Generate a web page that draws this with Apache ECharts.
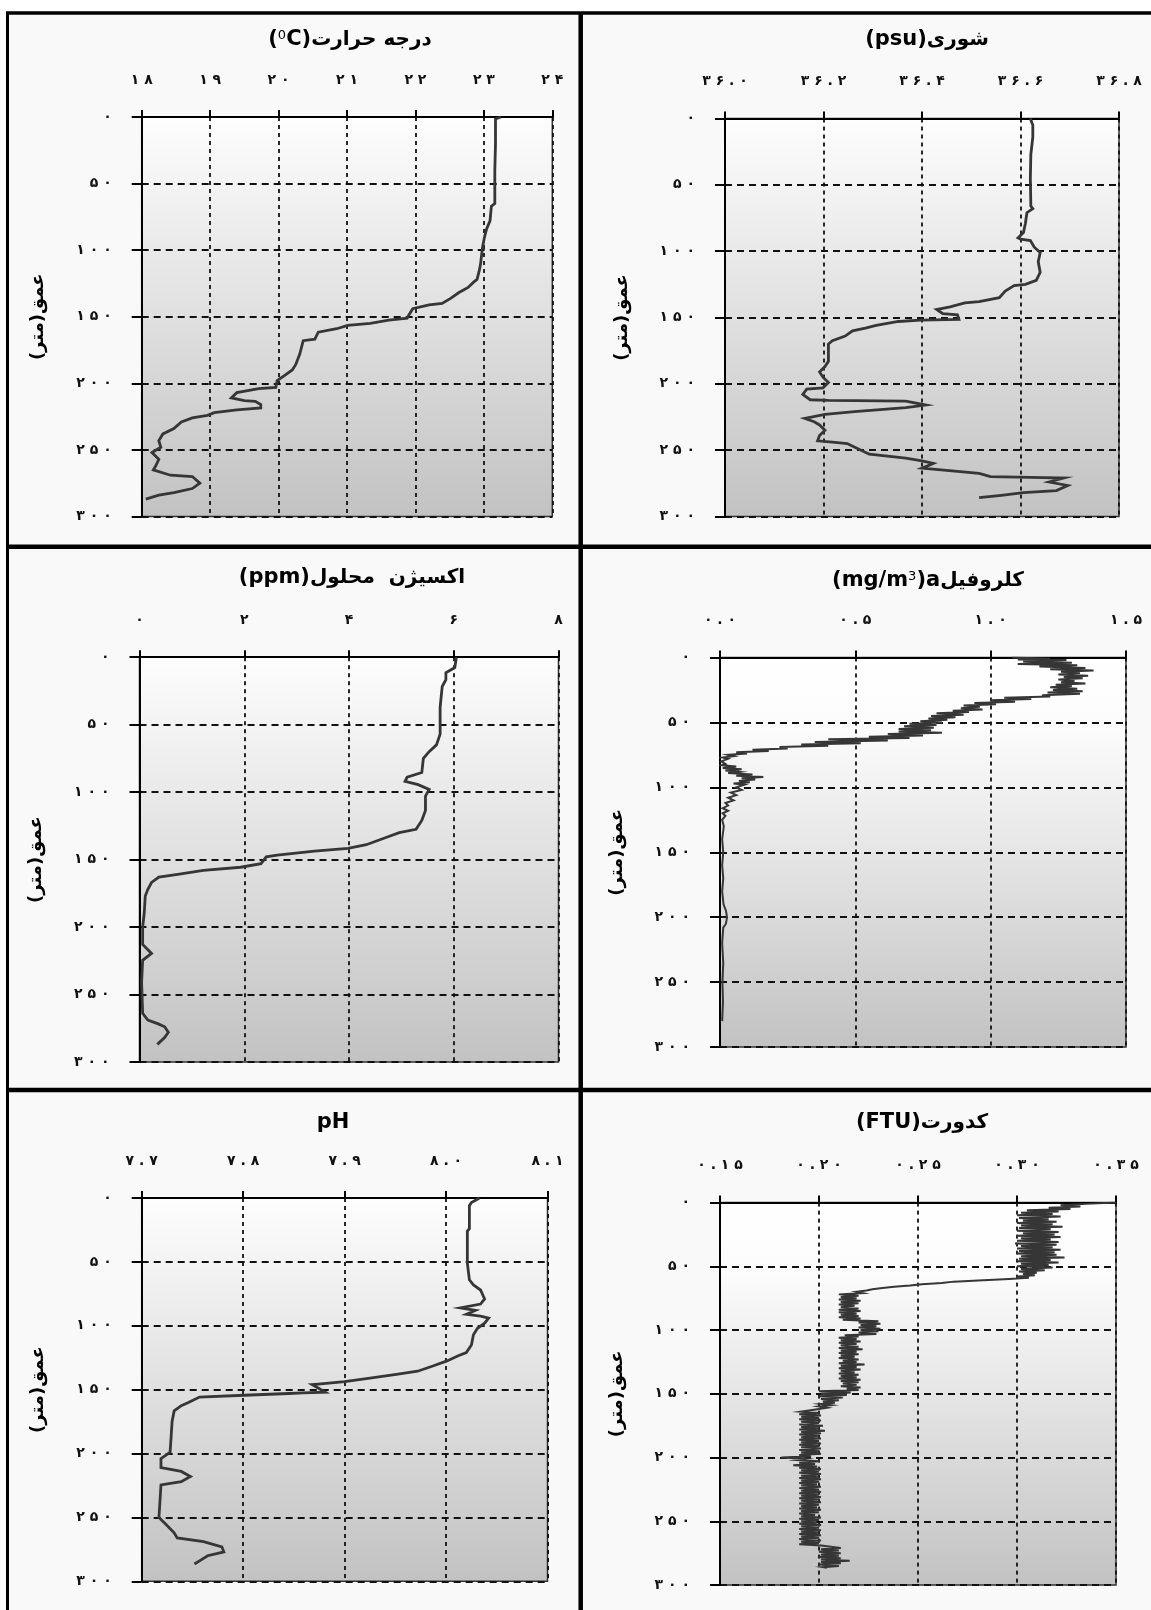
<!DOCTYPE html>
<html>
<head>
<meta charset="utf-8">
<script src="https://cdn.jsdelivr.net/npm/echarts@6/dist/echarts.min.js"></script>
<style>
  html, body { margin: 0; padding: 0; background: #ffffff; }
  #chart { width: 1151px; height: 1610px; }
</style>
</head>
<body>
<div id="chart"></div>
<script>
// ---- Depth axis (metres), shared by all six profiles ----
const depthTicks = [0, 50, 100, 150, 200, 250, 300];

// ---- Top-axis tick values for each profile ----
const tempTicks = [18, 19, 20, 21, 22, 23, 24];
const salinityTicks = [36.0, 36.2, 36.4, 36.6, 36.8];
const oxygenTicks = [0, 2, 4, 6, 8];
const chlTicks = [0.0, 0.5, 1.0, 1.5];
const phTicks = [7.7, 7.8, 7.9, 8.0, 8.1];
const turbTicks = [0.15, 0.20, 0.25, 0.30, 0.35];

// ---- Profiles: [depth (m), value] ----
const temperature = [
  [0, 23.25], [1.5, 23.17], [3, 23.16], [20, 23.17], [40, 23.16], [65, 23.16], [67, 23.11], [78, 23.09],
  [84, 23.04], [90, 23.01], [98, 22.98], [111, 22.95], [116, 22.93], [122, 22.90], [124, 22.85], [128, 22.77],
  [132, 22.63], [136, 22.52], [140, 22.39], [141, 22.20], [144, 21.96], [149, 21.90], [151, 21.88], [152.6, 21.61],
  [155, 21.34], [156.5, 21.01], [159, 20.85], [161.6, 20.58], [166.8, 20.53], [168, 20.36], [178, 20.31], [186, 20.25],
  [190, 20.20], [194, 20.09], [198, 19.98], [203, 19.96], [204, 19.71], [207, 19.39], [211, 19.31], [213, 19.50],
  [213.5, 19.66], [216, 19.74], [218.5, 19.74], [220, 19.39], [222, 19.06], [224, 18.96], [226, 18.74], [229, 18.58],
  [234, 18.47], [238, 18.31], [243, 18.25], [248, 18.28], [252, 18.15], [257, 18.25], [262.5, 18.20], [265, 18.17],
  [269, 18.42], [270, 18.74], [275, 18.85], [279, 18.74], [282, 18.47], [284, 18.25], [287, 18.06]
];

const salinity = [
  [0, 36.620], [1, 36.621], [5, 36.625], [14, 36.625], [27, 36.621], [45, 36.620], [66, 36.621], [68, 36.625],
  [71, 36.613], [79, 36.610], [86, 36.606], [90, 36.595], [91, 36.600], [92, 36.620], [97, 36.628], [101, 36.640],
  [108, 36.636], [116, 36.640], [122, 36.632], [125, 36.610], [126, 36.587], [130, 36.569], [135, 36.557], [138, 36.516],
  [139, 36.487], [142, 36.457], [144, 36.430], [147, 36.442], [148, 36.472], [151.5, 36.475], [152, 36.397], [153, 36.352],
  [156, 36.307], [158, 36.285], [160, 36.259], [164, 36.244], [167.5, 36.218], [170, 36.210], [183, 36.210], [187, 36.203],
  [191, 36.192], [195, 36.199], [199, 36.210], [203, 36.199], [204, 36.166], [208, 36.158], [212, 36.173], [212.5, 36.210],
  [213, 36.367], [216, 36.408], [218, 36.367], [221, 36.263], [223, 36.203], [226, 36.162], [228.6, 36.181], [231, 36.192],
  [235, 36.203], [239, 36.192], [243, 36.188], [244, 36.218], [245, 36.248], [249, 36.270], [253, 36.293], [256, 36.367],
  [258, 36.400], [260, 36.423], [263.6, 36.400], [266, 36.472], [267.5, 36.516], [270, 36.539], [270.5, 36.621], [271, 36.688],
  [274, 36.658], [276.6, 36.696], [280.5, 36.673], [282, 36.606], [284, 36.561], [285.7, 36.516]
];

const oxygen = [
  [0, 6.05], [1.3, 6.06], [7.7, 6.02], [11.5, 5.85], [16.6, 5.85], [21.7, 5.78], [37, 5.74], [57, 5.74],
  [65, 5.67], [70, 5.53], [75, 5.42], [85.5, 5.39], [89, 5.11], [92, 5.07], [94.5, 5.32], [98, 5.53],
  [103, 5.46], [113.6, 5.46], [121, 5.39], [127.6, 5.28], [130, 4.96], [134, 4.68], [139, 4.33], [141.7, 3.98],
  [143.7, 3.34], [146.8, 2.63], [148, 2.42], [153, 2.32], [155.7, 1.93], [158, 1.22], [161, 0.73], [163, 0.37],
  [167, 0.23], [172, 0.16], [177, 0.11], [190, 0.09], [200, 0.06], [213, 0.06], [219.6, 0.23], [224.7, 0.06],
  [241, 0.04], [264, 0.06], [269, 0.16], [272, 0.37], [274, 0.48], [278, 0.55], [282, 0.48], [287, 0.34]
];

const chlorophyll = [
  [0, 1.08], [1, 1.22], [1.5, 1.10], [2, 1.28], [3, 1.12], [4, 1.30], [5, 1.10], [6, 1.32], [7, 1.18], [8, 1.35],
  [9, 1.22], [10, 1.38], [11, 1.26], [12, 1.33], [13, 1.25], [14, 1.36], [15, 1.27], [16, 1.34], [17, 1.25], [18, 1.31],
  [19, 1.26], [20, 1.35], [21, 1.24], [22, 1.30], [23, 1.22], [24, 1.32], [25, 1.23], [26, 1.34], [27, 1.21], [28, 1.33],
  [29, 1.19], [30, 1.22], [31, 1.05], [32, 1.15], [33, 1.00], [34, 1.09], [35, 0.94], [36, 1.02], [37, 0.90], [38, 0.96],
  [39, 0.89], [40, 0.97], [41, 0.86], [42, 0.92], [43, 0.80], [44, 0.90], [45, 0.78], [46, 0.87], [47, 0.77], [48, 0.84],
  [49, 0.74], [50, 0.82], [51, 0.70], [52, 0.80], [53, 0.68], [54, 0.79], [55, 0.66], [56, 0.78], [57, 0.66], [58, 0.82],
  [59, 0.62], [60, 0.75], [61, 0.55], [62, 0.70], [63, 0.40], [64, 0.62], [65, 0.35], [66, 0.52], [67, 0.30], [68, 0.40],
  [69, 0.22], [70, 0.25], [71, 0.12], [72, 0.18], [73, 0.06], [74, 0.10], [75, 0.03], [76, 0.05], [77, 0.01], [78, 0.03],
  [80, 0.005], [82, 0.02], [83, 0.005], [84, 0.06], [85, 0.01], [86, 0.08], [87, 0.02], [88, 0.07], [89, 0.03], [90, 0.12],
  [91, 0.06], [92, 0.16], [93, 0.08], [94, 0.13], [95, 0.07], [96, 0.11], [97, 0.05], [98, 0.09], [100, 0.06], [102, 0.08],
  [104, 0.04], [106, 0.06], [108, 0.03], [110, 0.05], [112, 0.02], [114, 0.03], [116, 0.01], [118, 0.03], [120, 0.01], [122, 0.02],
  [125, 0.008], [130, 0.014], [140, 0.008], [150, 0.012], [160, 0.008], [170, 0.012], [180, 0.008], [190, 0.013], [195, 0.022], [200, 0.026],
  [205, 0.022], [208, 0.012], [220, 0.008], [235, 0.012], [250, 0.009], [265, 0.011], [280, 0.008]
];

const ph = [
  [0, 8.033], [3.5, 8.025], [6, 8.023], [24, 8.023], [26, 8.021], [51, 8.021], [64, 8.023], [68, 8.027],
  [72, 8.034], [79, 8.038], [83, 8.034], [86, 8.014], [88, 8.029], [91, 8.020], [92.5, 8.034], [94, 8.042],
  [98, 8.038], [102, 8.031], [107, 8.027], [115, 8.025], [121, 8.020], [123.5, 8.012], [127.5, 8.001], [131.5, 7.987],
  [135.6, 7.972], [138, 7.951], [141, 7.925], [143.7, 7.900], [145.6, 7.874], [146, 7.868], [152, 7.881], [152.5, 7.859],
  [153, 7.845], [154.4, 7.801], [155.8, 7.757], [160, 7.746], [162.5, 7.739], [166.6, 7.732], [174.7, 7.730], [199, 7.728],
  [204, 7.719], [211, 7.719], [214, 7.739], [218, 7.748], [222, 7.739], [224.5, 7.719], [250, 7.717], [255.5, 7.724],
  [262, 7.732], [266, 7.735], [269, 7.761], [273, 7.779], [277, 7.781], [280, 7.765], [284, 7.757], [286.5, 7.752]
];

const turbidity = [
  [0, 0.350], [1, 0.335], [2, 0.322], [3, 0.332], [4, 0.316], [5, 0.327], [6, 0.305], [7, 0.321], [8, 0.302], [9, 0.318],
  [10, 0.300], [11, 0.322], [12, 0.301], [13, 0.316], [14, 0.303], [15, 0.320], [16, 0.300], [17, 0.318], [18, 0.302], [19, 0.323],
  [20, 0.301], [21, 0.317], [22, 0.300], [23, 0.321], [24, 0.303], [25, 0.319], [26, 0.300], [27, 0.322], [28, 0.302], [29, 0.317],
  [30, 0.300], [31, 0.321], [32, 0.299], [33, 0.320], [34, 0.302], [35, 0.318], [36, 0.300], [37, 0.322], [38, 0.301], [39, 0.319],
  [40, 0.300], [41, 0.320], [42, 0.302], [43, 0.324], [44, 0.301], [45, 0.317], [46, 0.300], [47, 0.321], [48, 0.302], [49, 0.316],
  [50, 0.300], [51, 0.318], [52, 0.302], [53, 0.314], [54, 0.301], [55, 0.310], [56, 0.303], [57, 0.309], [58, 0.300], [59, 0.306],
  [60, 0.296], [61, 0.283], [62, 0.268], [63, 0.262], [64, 0.252], [65, 0.246], [66, 0.238], [67, 0.232], [68, 0.227], [69, 0.224],
  [70, 0.219], [71, 0.222], [72, 0.210], [73, 0.220], [74, 0.211], [75, 0.219], [76, 0.210], [77, 0.221], [78, 0.211], [79, 0.220],
  [80, 0.210], [81, 0.218], [82, 0.211], [83, 0.220], [84, 0.210], [85, 0.221], [86, 0.210], [87, 0.219], [88, 0.211], [89, 0.220],
  [90, 0.210], [91, 0.221], [92, 0.212], [93, 0.230], [94, 0.220], [95, 0.231], [96, 0.221], [97, 0.229], [98, 0.220], [99, 0.231],
  [100, 0.221], [101, 0.230], [102, 0.220], [103, 0.229], [104, 0.213], [105, 0.220], [106, 0.210], [107, 0.219], [108, 0.211], [109, 0.221],
  [110, 0.210], [111, 0.219], [112, 0.211], [113, 0.220], [114, 0.210], [115, 0.222], [116, 0.211], [117, 0.219], [118, 0.210], [119, 0.220],
  [120, 0.211], [121, 0.218], [122, 0.210], [123, 0.220], [124, 0.212], [125, 0.219], [126, 0.210], [127, 0.223], [128, 0.211], [129, 0.219],
  [130, 0.210], [131, 0.221], [132, 0.211], [133, 0.218], [134, 0.210], [135, 0.220], [136, 0.211], [137, 0.219], [138, 0.210], [139, 0.221],
  [140, 0.211], [141, 0.220], [142, 0.212], [143, 0.219], [144, 0.211], [145, 0.221], [146, 0.214], [147, 0.220], [148, 0.200], [149, 0.216],
  [150, 0.201], [151, 0.214], [152, 0.200], [153, 0.212], [154, 0.201], [155, 0.210], [156, 0.202], [157, 0.208], [158, 0.201], [159, 0.206],
  [160, 0.200], [161, 0.204], [162, 0.200], [163, 0.201], [164, 0.191], [165, 0.200], [166, 0.190], [167, 0.201], [168, 0.191], [169, 0.200],
  [170, 0.190], [171, 0.201], [172, 0.191], [173, 0.200], [174, 0.190], [175, 0.202], [176, 0.191], [177, 0.200], [178, 0.190], [179, 0.203],
  [180, 0.191], [181, 0.201], [182, 0.190], [183, 0.200], [184, 0.191], [185, 0.201], [186, 0.190], [187, 0.200], [188, 0.191], [189, 0.201],
  [190, 0.190], [191, 0.200], [192, 0.191], [193, 0.201], [194, 0.190], [195, 0.200], [196, 0.191], [197, 0.201], [198, 0.190], [199, 0.196],
  [200, 0.181], [201, 0.193], [202, 0.189], [203, 0.200], [204, 0.190], [205, 0.198], [206, 0.187], [207, 0.199], [208, 0.190], [209, 0.201],
  [210, 0.191], [211, 0.200], [212, 0.190], [213, 0.201], [214, 0.191], [215, 0.200], [216, 0.190], [217, 0.201], [218, 0.191], [219, 0.200],
  [220, 0.190], [221, 0.199], [222, 0.191], [223, 0.201], [224, 0.190], [225, 0.200], [226, 0.191], [227, 0.201], [228, 0.190], [229, 0.200],
  [230, 0.191], [231, 0.201], [232, 0.190], [233, 0.200], [234, 0.191], [235, 0.201], [236, 0.190], [237, 0.200], [238, 0.191], [239, 0.199],
  [240, 0.190], [241, 0.201], [242, 0.191], [243, 0.200], [244, 0.190], [245, 0.198], [246, 0.191], [247, 0.201], [248, 0.190], [249, 0.200],
  [250, 0.191], [251, 0.199], [252, 0.190], [253, 0.201], [254, 0.191], [255, 0.200], [256, 0.190], [257, 0.201], [258, 0.191], [259, 0.200],
  [260, 0.190], [261, 0.201], [262, 0.191], [263, 0.200], [264, 0.190], [265, 0.201], [266, 0.191], [267, 0.200], [268, 0.190], [269, 0.201],
  [270, 0.200], [271, 0.211], [272, 0.201], [273, 0.210], [274, 0.200], [275, 0.211], [276, 0.201], [277, 0.210], [278, 0.200], [279, 0.211],
  [280, 0.201], [281, 0.2155], [282, 0.201], [283, 0.211], [284, 0.200], [285, 0.210], [286, 0.202], [286.5, 0.204]
];

// ---- Titles (rich-text fragments laid out left to right) ----
const titles = [
  '{l|(}{s|0}{l|C)}{f|درجه حرارت}',
  '{l|(psu)}{f|شوری}',
  '{l|(ppm)}{f|اکسیژن  محلول}',
  '{l|(mg/m}{s|3}{l|)a}{f|کلروفیل}',
  '{l|pH}',
  '{l|(FTU)}{f|کدورت}'
];
const depthName = '{n|(متر)}{n|عمق}';

// ---- Panel geometry ----
const panels = [
  { rect: [141.7, 117, 410.6, 399.5], ticks: tempTicks, dec: 0, data: temperature, thin: false, title: [350, 40] },
  { rect: [725, 118.5, 394, 398], ticks: salinityTicks, dec: 1, data: salinity, thin: false, title: [927, 40] },
  { rect: [139.5, 657.2, 419, 404.7], ticks: oxygenTicks, dec: 0, data: oxygen, thin: false, title: [352, 578] },
  { rect: [720, 657.5, 406, 389.6], ticks: chlTicks, dec: 1, data: chlorophyll, thin: true, title: [928, 581] },
  { rect: [141.7, 1198, 405.8, 383.3], ticks: phTicks, dec: 1, data: ph, thin: false, title: [333, 1123] },
  { rect: [720, 1202.6, 396, 382.4], ticks: turbTicks, dec: 2, data: turbidity, thin: true, title: [922, 1123] }
];

const FA = '۰۱۲۳۴۵۶۷۸۹';
function faLabel(v, dec) {
  const s = Number(v).toFixed(dec).replace(/[0-9]/g, d => FA[+d]);
  return s.split('').join(' ');
}

const labelFont = { fontFamily: 'DejaVu Sans', fontWeight: 'bold', fontSize: 14, color: '#111' };

const grids = [], xAxes = [], yAxes = [], series = [], graphics = [];

// Frame behind the panels
graphics.push({ type: 'rect', z: -10, shape: { x: 7, y: 13, width: 1144, height: 1597 }, style: { fill: '#f9f9f9' } });
graphics.push({ type: 'line', z: 50, shape: { x1: 6, y1: 13, x2: 1151, y2: 13 }, style: { stroke: '#000', lineWidth: 3.5 } });
graphics.push({ type: 'line', z: 50, shape: { x1: 7.5, y1: 12, x2: 7.5, y2: 1610 }, style: { stroke: '#000', lineWidth: 3 } });
graphics.push({ type: 'line', z: 50, shape: { x1: 580.7, y1: 12, x2: 580.7, y2: 1610 }, style: { stroke: '#000', lineWidth: 4.5 } });
graphics.push({ type: 'line', z: 50, shape: { x1: 6, y1: 546.7, x2: 1151, y2: 546.7 }, style: { stroke: '#000', lineWidth: 4.5 } });
graphics.push({ type: 'line', z: 50, shape: { x1: 6, y1: 1090, x2: 1151, y2: 1090 }, style: { stroke: '#000', lineWidth: 4.5 } });

const titleRich = {
  l: { fontFamily: 'DejaVu Sans', fontWeight: 'bold', fontSize: 21, fill: '#000', color: '#000' },
  s: { fontFamily: 'DejaVu Sans', fontWeight: 'normal', fontSize: 13, verticalAlign: 'top', fill: '#000', color: '#000' },
  f: { fontFamily: 'DejaVu Sans', fontWeight: 'bold', fontSize: 20, fill: '#000', color: '#000' }
};

panels.forEach((p, i) => {
  const [left, top, width, height] = p.rect;
  grids.push({
    left, top, width, height,
    show: true,
    backgroundColor: new echarts.graphic.LinearGradient(0, 0, 0, 1, [
      { offset: 0, color: '#ffffff' },
      { offset: p.thin ? 0.18 : 0.02, color: '#fcfcfc' },
      { offset: 1, color: '#c2c2c2' }
    ]),
    borderColor: '#333',
    borderWidth: 1.5
  });
  const t = p.ticks;
  xAxes.push({
    type: 'value', gridIndex: i, position: 'top',
    min: t[0], max: t[t.length - 1], interval: t[1] - t[0],
    axisLine: { show: true, onZero: false, lineStyle: { color: '#000', width: 2 } },
    axisTick: { show: true, length: 7, lineStyle: { color: '#000', width: 2 } },
    axisLabel: Object.assign({ margin: 30, showMinLabel: true, showMaxLabel: true,
      formatter: v => faLabel(v, p.dec) }, labelFont),
    splitLine: { show: true, lineStyle: { color: '#111', width: 1.8, type: [4, 4] } }
  });
  yAxes.push({
    type: 'value', gridIndex: i, inverse: true,
    min: depthTicks[0], max: depthTicks[depthTicks.length - 1], interval: depthTicks[1] - depthTicks[0],
    axisLine: { show: true, onZero: false, lineStyle: { color: '#000', width: 2 } },
    axisTick: { show: true, length: 10, lineStyle: { color: '#000', width: 2 } },
    axisLabel: Object.assign({ margin: 30, formatter: v => faLabel(v, 0) }, labelFont),
    splitLine: { show: true, lineStyle: { color: '#111', width: 1.8, type: [7, 5] } }
  });
  series.push({
    type: 'line', xAxisIndex: i, yAxisIndex: i,
    data: p.data.map(d => [d[1], d[0]]),
    showSymbol: false, symbol: 'none', smooth: false, clip: true, animation: false,
    lineStyle: { color: '#363636', width: p.thin ? 2 : 2.8, join: 'miter' }
  });
  // Panel title
  graphics.push({
    type: 'text', z: 60, x: p.title[0], y: p.title[1],
    style: {
      text: titles[i], align: 'center', verticalAlign: 'middle', textAlign: 'center', textVerticalAlign: 'middle',
      fill: '#000', rich: titleRich
    }
  });
  // Depth axis name
  graphics.push({
    type: 'text', z: 60, x: left - 103, y: top + height / 2, rotation: Math.PI / 2,
    style: {
      text: depthName, align: 'center', verticalAlign: 'middle', textAlign: 'center', textVerticalAlign: 'middle',
      fill: '#000',
      rich: { n: { fontFamily: 'DejaVu Sans', fontWeight: 'bold', fontSize: 18, fill: '#000', color: '#000' } }
    }
  });
});

const chart = echarts.init(document.getElementById('chart'), null, { renderer: 'canvas', width: 1151, height: 1610 });
chart.setOption({
  backgroundColor: '#ffffff',
  animation: false,
  grid: grids,
  xAxis: xAxes,
  yAxis: yAxes,
  series: series,
  graphic: { elements: graphics }
});
</script>
</body>
</html>
